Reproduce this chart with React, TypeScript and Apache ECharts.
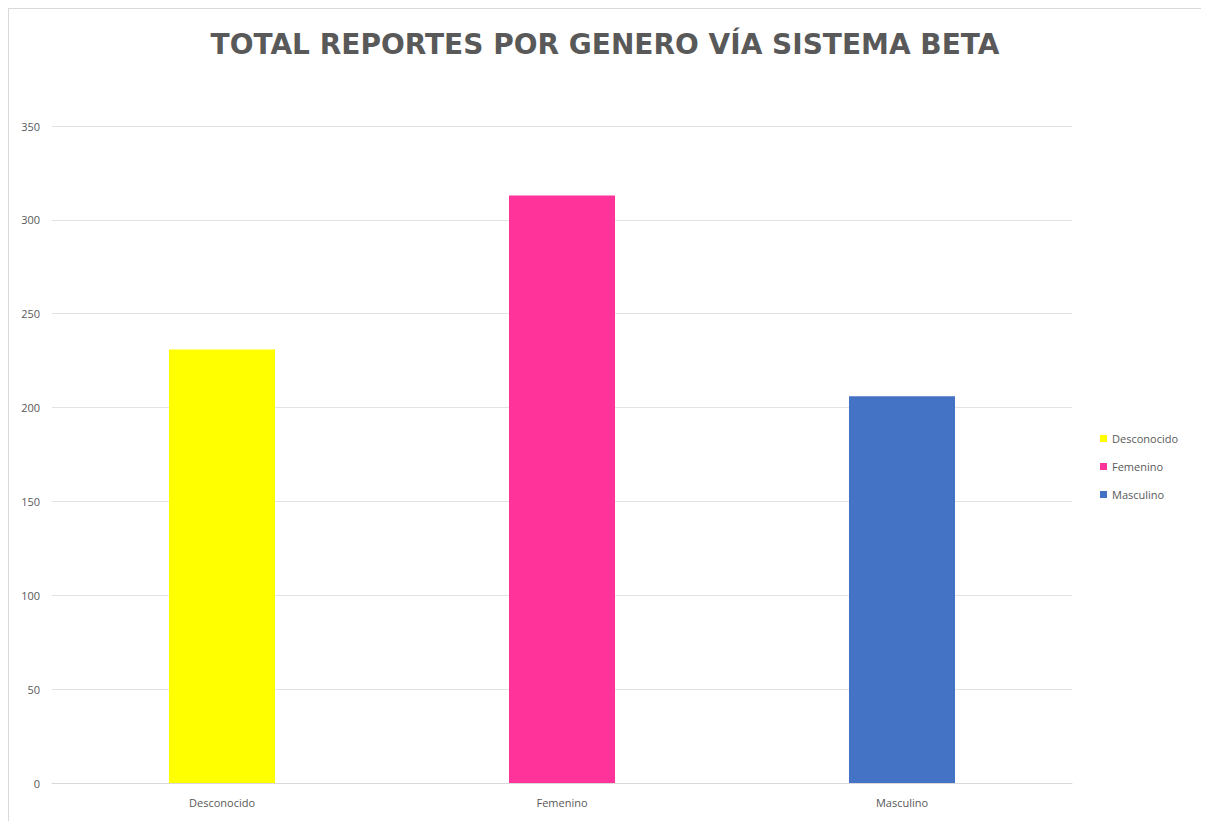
import React, { useEffect, useRef } from "react";
import * as echarts from "echarts";

const categories = ["Desconocido", "Femenino", "Masculino"];
const values = [231, 313, 206];
const colors = ["#FFFF00", "#FF3399", "#4472C4"];
const yTicks = { min: 0, max: 350, interval: 50 };

export default function App() {
  const ref = useRef<HTMLDivElement>(null);
  useEffect(() => {
    if (!ref.current) return;
    const chart = echarts.init(ref.current, undefined, { renderer: "svg" });
    const series = categories.map((name, i) => ({
      name,
      type: "bar",
      stack: "total",
      barWidth: 106,
      itemStyle: { color: colors[i] },
      data: categories.map((_, j) => (j === i ? values[i] : "-")),
    }));
    chart.setOption({
      animation: false,
      backgroundColor: "#ffffff",
      title: {
        text: "TOTAL REPORTES POR GENERO VÍA SISTEMA BETA",
        left: "center",
        top: 16,
        textStyle: {
          fontFamily: "DejaVu Sans",
          fontWeight: "bold",
          fontSize: 28,
          color: "#595959",
        },
      },
      legend: {
        orient: "vertical",
        left: 1086,
        top: 419,
        itemWidth: 7,
        itemHeight: 7,
        itemGap: 17,
        icon: "rect",
        textStyle: { color: "#595959", fontSize: 11, fontFamily: "Open Sans" },
        data: categories,
      },
      grid: { left: 43, right: 129, top: 117, bottom: 46, containLabel: false },
      xAxis: {
        type: "category",
        data: categories,
        axisLine: { lineStyle: { color: "#d9d9d9" } },
        axisTick: { show: false },
        axisLabel: { color: "#595959", fontSize: 11, fontFamily: "Open Sans", margin: 14 },
      },
      yAxis: {
        type: "value",
        min: yTicks.min,
        max: yTicks.max,
        interval: yTicks.interval,
        axisLine: { show: false },
        axisTick: { show: false },
        splitLine: { lineStyle: { color: "#e3e3e3" } },
        axisLabel: { color: "#595959", fontSize: 11, fontFamily: "Open Sans", margin: 12 },
      },
      series,
    });
    return () => chart.dispose();
  }, []);
  return (
    <div
      ref={ref}
      style={{ width: 1192, height: 820, border: "1px solid #d9d9d9" }}
    />
  );
}
